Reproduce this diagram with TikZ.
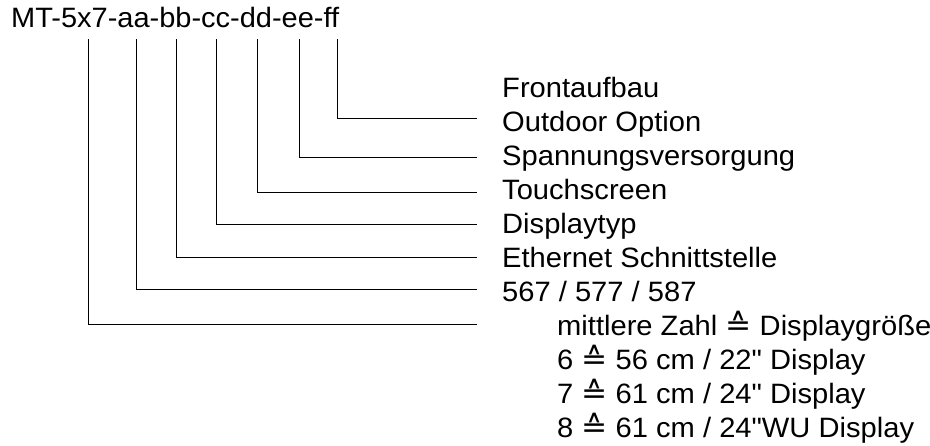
\documentclass[tikz,border=0pt]{standalone}
\usepackage{fontspec}
\setmainfont{Liberation Sans}[Ligatures=TeXOff]
\newfontfamily\symfont{DejaVu Sans}
\newcommand{\entspr}{{\symfont\fontsize{30}{32}\selectfont ≙}}
\newcommand{\zoll}{\symbol{34}}
\tikzset{
  codetext/.style={anchor=base west, inner sep=0pt, font=\fontsize{28}{32}\selectfont, xscale=1.035},
  labeltext/.style={anchor=base west, inner sep=0pt, font=\fontsize{28}{32}\selectfont, xscale=1.04},
  leader/.style={line width=1pt}
}
\begin{document}
\begin{tikzpicture}[x=1pt,y=-1pt]
  \useasboundingbox (0,0) rectangle (930,445);

  \node[codetext] (code) at (11,27) {MT-5x7-aa-bb-cc-dd-ee-ff};

  % labels on the right, one per line
  \foreach \txt [count=\i from 0] in {Frontaufbau, Outdoor Option, Spannungsversorgung,
      Touchscreen, Displaytyp, Ethernet Schnittstelle, 567 / 577 / 587}
    {
      \node[labeltext] (lbl\i) at (502, 97.5+\i*33.95){\txt};
    }
  \foreach \txt [count=\i from 7] in {mittlere Zahl \entspr{} Displaygröße,
      6 \entspr{} 56 cm / 22\zoll{} Display, 7 \entspr{} 61 cm / 24\zoll{} Display,
      8 \entspr{} 61 cm / 24\zoll WU Display}
    {
      \node[labeltext] (lbl\i) at (557, 97.5+\i*33.95){\txt};
    }

  % leaders from the code down to the labels
  \foreach \nm / \x / \y in {ff/337/118.7, ee/299/157.7, dd/257/192.3, cc/216/224.3,
      bb/176/257.3, aa/136/289.3, size/88/324}
    {
      \coordinate (top-\nm) at (\x, 39);
      \coordinate (end-\nm) at (477, \y);
      \draw[leader] (top-\nm) |- (end-\nm);
    }
\end{tikzpicture}
\end{document}
